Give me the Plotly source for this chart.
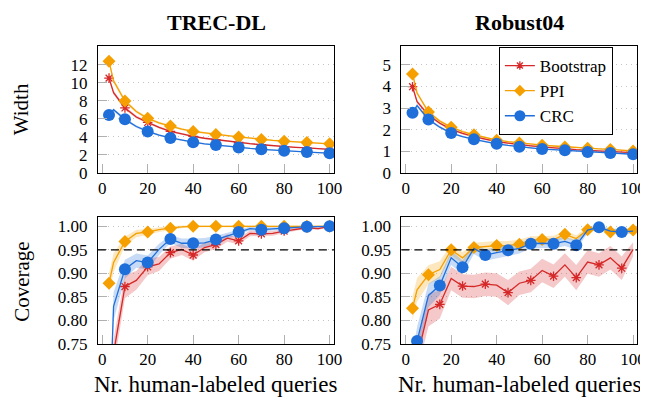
import plotly.graph_objects as go

# ---------------- data ----------------
x_vals = [3, 5, 10, 15, 20, 25, 30, 35, 40, 45, 50, 55, 60, 65, 70, 75, 80, 85, 90, 95, 100]
series_names = ["Bootstrap", "PPI", "CRC"]
x_ticks = [0, 20, 40, 60, 80, 100]
width_dl_ticks = [0, 2, 4, 6, 8, 10, 12]
width_rb_ticks = [0, 1, 2, 3, 4, 5]
cov_ticks = [0.75, 0.80, 0.85, 0.90, 0.95, 1.00]
target_coverage = 0.95

# TREC-DL width
dl_width_boot = [10.5, 8.9, 7.2, 6.2, 5.6, 5.05, 4.62, 4.3, 4.05, 3.85, 3.68, 3.52, 3.38, 3.25, 3.13, 3.02, 2.93, 2.85, 2.78, 2.7, 2.62]
dl_width_ppi = [12.36, 10.2, 7.96, 6.8, 6.05, 5.55, 5.2, 4.85, 4.6, 4.42, 4.27, 4.13, 4.0, 3.85, 3.72, 3.62, 3.53, 3.45, 3.38, 3.3, 3.24]
dl_width_crc = [6.41, 7.0, 5.94, 5.15, 4.61, 4.2, 3.89, 3.62, 3.42, 3.24, 3.1, 2.95, 2.83, 2.72, 2.63, 2.54, 2.46, 2.38, 2.32, 2.26, 2.2]

# Robust04 width
rb_width_boot = [3.99, 3.3, 2.68, 2.3, 2.02, 1.83, 1.68, 1.56, 1.45, 1.38, 1.31, 1.26, 1.21, 1.16, 1.12, 1.08, 1.05, 1.02, 0.99, 0.96, 0.94]
rb_width_ppi = [4.58, 3.7, 2.82, 2.4, 2.12, 1.92, 1.77, 1.63, 1.52, 1.45, 1.39, 1.34, 1.29, 1.25, 1.21, 1.18, 1.15, 1.12, 1.09, 1.05, 1.02]
rb_width_crc = [2.79, 3.12, 2.48, 2.12, 1.85, 1.68, 1.56, 1.45, 1.35, 1.28, 1.22, 1.16, 1.11, 1.08, 1.05, 1.01, 0.97, 0.95, 0.93, 0.9, 0.87]

# TREC-DL coverage (mean and band half-width)
dl_cov_boot = [0.55, 0.73, 0.872, 0.885, 0.914, 0.92, 0.944, 0.951, 0.939, 0.955, 0.961, 0.975, 0.969, 0.985, 0.984, 0.985, 0.99, 0.994, 0.997, 0.995, 1.0]
dl_cov_boot_hw = [0.03, 0.03, 0.025, 0.02, 0.018, 0.015, 0.013, 0.012, 0.012, 0.01, 0.009, 0.008, 0.007, 0.006, 0.005, 0.005, 0.004, 0.003, 0.002, 0.003, 0.001]
dl_cov_ppi = [0.879, 0.923, 0.968, 0.985, 0.988, 0.993, 0.996, 0.999, 1.0, 1.0, 1.0, 1.0, 1.0, 1.0, 1.0, 1.0, 1.0, 1.0, 1.0, 1.0, 1.0]
dl_cov_ppi_hw = [0.02, 0.02, 0.01, 0.008, 0.006, 0.005, 0.004, 0.003, 0.002, 0.002, 0.002, 0.002, 0.002, 0.002, 0.002, 0.002, 0.002, 0.002, 0.002, 0.002, 0.002]
dl_cov_crc = [0.55, 0.83, 0.909, 0.927, 0.923, 0.951, 0.973, 0.964, 0.964, 0.965, 0.972, 0.98, 0.988, 0.995, 0.993, 0.995, 0.996, 0.998, 0.999, 1.0, 1.0]
dl_cov_crc_hw = [0.03, 0.03, 0.02, 0.015, 0.015, 0.012, 0.008, 0.01, 0.01, 0.01, 0.008, 0.007, 0.005, 0.004, 0.004, 0.003, 0.003, 0.002, 0.002, 0.001, 0.001]

# Robust04 coverage
rb_cov_boot = [0.66, 0.72, 0.822, 0.834, 0.889, 0.873, 0.872, 0.877, 0.875, 0.859, 0.879, 0.885, 0.906, 0.894, 0.918, 0.891, 0.924, 0.918, 0.933, 0.911, 0.951]
rb_cov_boot_hw = [0.03, 0.03, 0.035, 0.03, 0.025, 0.025, 0.025, 0.025, 0.025, 0.027, 0.025, 0.025, 0.025, 0.025, 0.025, 0.027, 0.025, 0.025, 0.025, 0.025, 0.015]
rb_cov_ppi = [0.826, 0.865, 0.897, 0.908, 0.95, 0.933, 0.955, 0.957, 0.959, 0.959, 0.962, 0.97, 0.972, 0.972, 0.983, 0.974, 0.993, 0.998, 0.988, 0.993, 0.992]
rb_cov_ppi_hw = [0.025, 0.025, 0.02, 0.018, 0.012, 0.012, 0.01, 0.01, 0.01, 0.01, 0.01, 0.009, 0.008, 0.008, 0.007, 0.007, 0.005, 0.004, 0.005, 0.004, 0.004]
rb_cov_crc = [0.70, 0.756, 0.853, 0.874, 0.933, 0.913, 0.953, 0.939, 0.944, 0.949, 0.953, 0.963, 0.964, 0.963, 0.968, 0.96, 0.992, 0.998, 0.99, 0.988, 0.99]
rb_cov_crc_hw = [0.03, 0.03, 0.025, 0.02, 0.015, 0.015, 0.012, 0.012, 0.012, 0.012, 0.011, 0.01, 0.01, 0.01, 0.01, 0.01, 0.006, 0.004, 0.006, 0.006, 0.005]

# ---------------- styles ----------------
FONT = "Liberation Serif, Times New Roman, serif"
colors = {"Bootstrap": "rgb(214,40,40)", "PPI": "rgb(245,160,0)", "CRC": "rgb(31,111,218)"}
bands = {"Bootstrap": "rgba(214,40,40,0.25)", "PPI": "rgba(245,160,0,0.25)", "CRC": "rgba(31,111,218,0.25)"}
symbols = {"Bootstrap": "asterisk-open", "PPI": "diamond", "CRC": "circle"}
msize = {"Bootstrap": 8, "PPI": 10, "CRC": 12}

W, H = 648, 400
def fx(px):
    return px / W
def fy(py):
    return 1 - py / H

fig = go.Figure()

panels = [
    ("", (91, 330), (39, 169.3)),
    ("2", (398.3, 637.3), (39, 169.3)),
    ("3", (91, 330), (214.3, 344.5)),
    ("4", (398.3, 637.3), (214.3, 344.5)),
]

even = list(range(0, len(x_vals), 2))
odd = list(range(1, len(x_vals), 2))

panel_data = {
    "": {"Bootstrap": (dl_width_boot, None, even), "PPI": (dl_width_ppi, None, even), "CRC": (dl_width_crc, None, even)},
    "2": {"Bootstrap": (rb_width_boot, None, even), "PPI": (rb_width_ppi, None, even), "CRC": (rb_width_crc, None, even)},
    "3": {"Bootstrap": (dl_cov_boot, dl_cov_boot_hw, even), "PPI": (dl_cov_ppi, dl_cov_ppi_hw, even), "CRC": (dl_cov_crc, dl_cov_crc_hw, even)},
    "4": {"Bootstrap": (rb_cov_boot, rb_cov_boot_hw, odd), "PPI": (rb_cov_ppi, rb_cov_ppi_hw, even), "CRC": (rb_cov_crc, rb_cov_crc_hw, odd)},
}

for suf, _, _ in panels:
    xa, ya = "x" + suf, "y" + suf
    for name in series_names:
        y, hw, _ = panel_data[suf][name]
        if hw is None:
            hw = [0.025 * v for v in y]
        hi = [a + b for a, b in zip(y, hw)]
        lo = [a - b for a, b in zip(y, hw)]
        fig.add_trace(go.Scatter(x=x_vals + x_vals[::-1], y=hi + lo[::-1], fill="toself",
                                 fillcolor=bands[name], line=dict(width=0), mode="lines",
                                 hoverinfo="skip", showlegend=False, xaxis=xa, yaxis=ya))
    for name in series_names:
        y, hw, midx = panel_data[suf][name]
        fig.add_trace(go.Scatter(x=x_vals, y=y, mode="lines", line=dict(color=colors[name], width=1.3),
                                 showlegend=False, xaxis=xa, yaxis=ya))
        mk = dict(symbol=symbols[name], size=msize[name], color=colors[name])
        if name == "Bootstrap":
            mk["line"] = dict(color=colors[name], width=1.3)
        fig.add_trace(go.Scatter(x=[x_vals[i] for i in midx], y=[y[i] for i in midx], mode="markers",
                                 marker=mk, showlegend=False, xaxis=xa, yaxis=ya))

for name in series_names:
    mk = dict(symbol=symbols[name], size=msize[name] - 1, color=colors[name])
    if name == "Bootstrap":
        mk["line"] = dict(color=colors[name], width=1.3)
    fig.add_trace(go.Scatter(x=[None], y=[None], mode="lines+markers", name=name,
                             line=dict(color=colors[name], width=1.3), marker=mk,
                             xaxis="x2", yaxis="y2"))

axis_common = dict(showline=True, linecolor="black", linewidth=1, mirror=True,
                   ticks="inside", tickcolor="#b0b0b0", ticklen=9, tickwidth=1,
                   tickfont=dict(family=FONT, size=17, color="black"), zeroline=False)

layout = dict(width=W, height=H, margin=dict(l=0, r=0, t=0, b=0),
              font=dict(family=FONT, color="black"),
              plot_bgcolor="white", paper_bgcolor="white", showlegend=True,
              legend=dict(x=fx(497), y=fy(40), xanchor="left", yanchor="top",
                          bordercolor="black", borderwidth=1, bgcolor="white",
                          font=dict(family=FONT, size=17, color="black"),
                          tracegroupgap=0, itemwidth=30))

yconf = {
    "": dict(range=[0, 14.05], tickvals=width_dl_ticks),
    "2": dict(range=[0, 5.87], tickvals=width_rb_ticks),
    "3": dict(range=[0.75, 1.02], tickvals=cov_ticks, tickformat=".2f"),
    "4": dict(range=[0.75, 1.02], tickvals=cov_ticks, tickformat=".2f"),
}

for suf, (x0, x1), (y0, y1) in panels:
    xk = "xaxis" + suf
    yk = "yaxis" + suf
    layout[xk] = dict(domain=[fx(x0), fx(x1)], range=[-1.9, 101.9], tickvals=x_ticks,
                      showgrid=False, anchor="y" + suf, ticklabelstandoff=0, **axis_common)
    layout[yk] = dict(domain=[fy(y1), fy(y0)], anchor="x" + suf, showgrid=True,
                      gridcolor="#c4c4c4", griddash="1px,4px", gridwidth=1,
                      ticklabelstandoff=6, **yconf[suf], **axis_common)

fig.update_layout(**layout)

for suf in ["3", "4"]:
    fig.add_shape(type="line", xref="x" + suf + " domain", yref="y" + suf,
                  x0=0, x1=1, y0=target_coverage, y1=target_coverage,
                  line=dict(color="black", width=1.2, dash="8px,5px"))

annots = [
    dict(text="<b>TREC-DL</b>", x=fx(211), y=fy(15), size=22, angle=0),
    dict(text="<b>Robust04</b>", x=fx(518), y=fy(15), size=22, angle=0),
    dict(text="Width", x=fx(14), y=fy(104), size=21, angle=-90),
    dict(text="Coverage", x=fx(14), y=fy(281), size=21, angle=-90),
    dict(text="Nr. human-labeled queries", x=fx(210.5), y=fy(386), size=23, angle=0),
    dict(text="Nr. human-labeled queries", x=fx(517.8), y=fy(386), size=23, angle=0),
]
for a in annots:
    fig.add_annotation(text=a["text"], x=a["x"], y=a["y"], xref="paper", yref="paper",
                       xanchor="center", yanchor="middle", showarrow=False, textangle=a["angle"],
                       font=dict(family=FONT, size=a["size"], color="black"))

fig.write_html("out.html")
